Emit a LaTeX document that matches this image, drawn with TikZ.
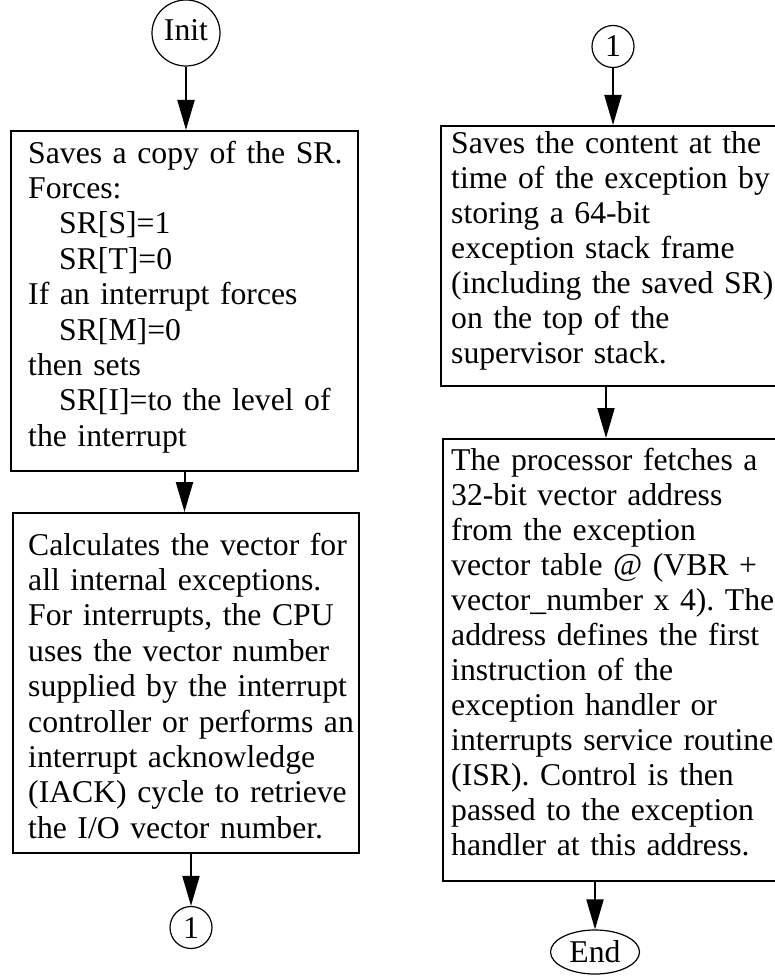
\documentclass[tikz,border=0pt]{standalone}
\usepackage{fontspec}
\setmainfont[WordSpace=0.85]{Liberation Serif}
\usetikzlibrary{arrows.meta,shapes.geometric}
\begin{document}
\frenchspacing
\begin{tikzpicture}[x=1pt,y=-1pt,
  boxst/.style={draw,line width=2pt,rectangle,inner sep=0pt},
  termst/.style={draw,line width=1.2pt,ellipse,inner sep=0pt,font=\fontsize{31.7}{35}\selectfont},
  connst/.style={draw,line width=1.2pt,circle,inner sep=0pt,minimum size=42pt,text height=21pt,text depth=0pt,font=\fontsize{31.7}{35}\selectfont},
  txtL/.style={anchor=north west,inner sep=0pt,align=left,text width=340pt,font=\frenchspacing\fontsize{31.7}{35.4}\selectfont},
  txtR/.style={anchor=north west,inner sep=0pt,align=left,text width=340pt,font=\frenchspacing\fontsize{31.7}{35}\selectfont},
  arr/.style={line width=2pt,-{Triangle[width=17pt,length=30pt]}}
]
\useasboundingbox (0,0) rectangle (775,976);

% left column
\node[termst,minimum width=68pt,minimum height=66pt,text height=21pt,text depth=6pt] (init) at (186,33) {Init};
\node[boxst,minimum width=347pt,minimum height=340pt] (b1) at (184.5,301) {};
\node[boxst,minimum width=346pt,minimum height=340pt] (b2) at (186,683) {};
\node[connst] (c1) at (191,927.5) {1};

\node[txtL] (t1) at (28,138.2) {\strut Saves a copy of the SR.\\
Forces:\\
\hspace*{31pt}SR[S]=1\\
\hspace*{31pt}SR[T]=0\\
If an interrupt forces\\
\hspace*{31pt}SR[M]=0\\
then sets\\
\hspace*{31pt}SR[I]=to the level of\\
the interrupt};

\node[txtL] (t2) at (28,530.2) {\strut Calculates the vector for\\
all internal exceptions.\\
For interrupts, the CPU\\
uses the vector number\\
supplied by the interrupt\\
controller or performs an\\
interrupt acknowledge\\
(IACK) cycle to retrieve\\
the I/O vector number.};

% right column
\node[connst] (c2) at (613,46.5) {1};
\node[boxst,minimum width=339pt,minimum height=260pt] (b3) at (610.5,256) {};
\node[boxst,minimum width=342pt,minimum height=442pt] (b4) at (614,660) {};
\node[termst,minimum width=89pt,minimum height=44pt,text height=21pt,text depth=0pt] (end) at (595,952) {End};

\node[txtR] (t3) at (451,128.8) {\strut Saves the content at the\\
time of the exception by\\
storing a 64-bit\\
exception stack frame\\
(including the saved SR)\\
on the top of the\\
supervisor stack.};

\node[txtR] (t4) at (451,445.5) {\strut The processor fetches a\\
32-bit vector address\\
from the exception\\
vector table @ (VBR +\\
vector\_number x 4). The\\
address defines the first\\
instruction of the\\
exception handler or\\
interrupts service routine\\
(ISR). Control is then\\
passed to the exception\\
handler at this address.};

% connectors
\coordinate (a3) at (606,386);
\draw[arr] (init.south) -- (init.south |- b1.north);
\draw[arr] (b1.south) -- (b1.south |- b2.north);
\draw[arr] (b2.south -| c1.north) -- (c1.north);
\draw[arr] (c2.south) -- (c2.south |- b3.north);
\draw[arr] (a3) -- (a3 |- b4.north);
\draw[arr] (b4.south -| end.north) -- (end.north);
\end{tikzpicture}
\end{document}
